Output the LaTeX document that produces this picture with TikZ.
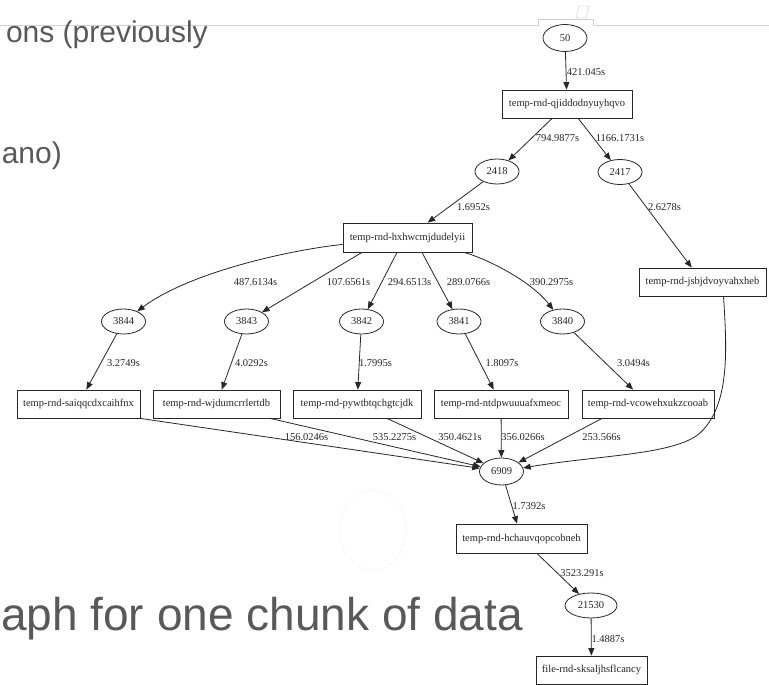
\documentclass[tikz,border=0pt]{standalone}
\usepackage{fontspec}
\setmainfont{Liberation Serif}
\newfontfamily\slidefont{Liberation Sans}
\usetikzlibrary{arrows.meta,shapes.geometric}
\definecolor{slidegray}{HTML}{595959}
\definecolor{linegray}{HTML}{D0D0D0}
\definecolor{graphink}{HTML}{262626}
\begin{document}
\begin{tikzpicture}[x=1pt,y=-1pt,
  every node/.style={inner sep=0pt, font=\fontsize{10.5}{12}\selectfont, text=graphink},
  ell/.style={draw=graphink, line width=0.8pt, ellipse, minimum width=44pt, minimum height=25pt},
  box/.style={draw=graphink, line width=0.8pt, rectangle, minimum height=28pt},
  edge/.style={draw=graphink, line width=0.8pt, -{Triangle[length=7.5pt,width=6pt]}},
  slide/.style={font=\slidefont\fontsize{30}{36}\selectfont, text=slidegray, anchor=base east},
  bigslide/.style={font=\slidefont\fontsize{46}{55}\selectfont, text=slidegray, anchor=base east}
]
\useasboundingbox (0,0) rectangle (769,685);
\fill[white] (0,0) rectangle (769,685);

% slide decorations
\draw[linegray, line width=0.9pt] (0,25) -- (538,25) -- (538,19) -- (593,19) -- (593,25) -- (769,25);
\draw[gray!25, line width=0.8pt] (576,18) -- (579,6) -- (589,6) -- (586,18) -- cycle;
\draw[gray!5, line width=1pt] (373,530) ellipse (33 and 40);

\node[slide] (t1) at (208,43) {ons (previously};
\node[slide] (t2) at (62,163) {ano)};
\node[bigslide] (t3) at (523,630) {aph for one chunk of data};

% graph nodes
\node[ell, minimum height=27pt] (n50) at (565,38) {50};
\node[box, minimum width=130pt] (q) at (567,104) {temp-rnd-qjiddodnyuyhqvo};
\node[ell] (n2418) at (497,171.5) {2418};
\node[ell] (n2417) at (620,172) {2417};
\node[box, minimum width=129pt, minimum height=29pt] (h) at (407.5,237.5) {temp-rnd-hxhwcmjdudelyii};
\node[box, minimum width=127pt] (j) at (702.5,282) {temp-rnd-jsbjdvoyvahxheb};

\node[ell] (n3844) at (123.5,321.5) {3844};
\node[ell] (n3843) at (246.5,321.5) {3843};
\node[ell] (n3842) at (361.5,321.5) {3842};
\node[ell] (n3841) at (459,321.5) {3841};
\node[ell] (n3840) at (562.5,321.5) {3840};

\node[box, minimum width=123pt] (r1) at (78.5,404) {temp-rnd-saiqqcdxcaihfnx};
\node[box, minimum width=127pt] (r2) at (216.5,404) {temp-rnd-wjdumcrrlertdb};
\node[box, minimum width=128pt] (r3) at (357,404) {temp-rnd-pywtbtqchgtcjdk};
\node[box, minimum width=134pt] (r4) at (501,404) {temp-rnd-ntdpwuuuafxmeoc};
\node[box, minimum width=132pt] (r5) at (648,404) {temp-rnd-vcowehxukzcooab};

\node[ell, minimum height=27pt] (n6909) at (501.5,471.5) {6909};
\node[box, minimum width=131pt, minimum height=29pt] (hc) at (521.5,538.5) {temp-rnd-hchauvqopcobneh};
\node[ell, minimum width=52pt] (n21530) at (591,605.5) {21530};
\node[box, minimum width=111pt] (f) at (591.5,670) {file-rnd-sksaljhsflcancy};

\coordinate (jbend) at (700,433);

% edges
\draw[edge] (n50) -- (q);
\draw[edge] (q) -- (n2418);
\draw[edge] (q) -- (n2417);
\draw[edge] (n2418) -- (h);
\draw[edge] (n2417) -- (j);
\draw[edge] (h) .. controls (290,250) and (190,272) .. (n3844);
\draw[edge] ([xshift=-45.5pt]h.south) -- (n3843);
\draw[edge] ([xshift=-10.5pt]h.south) -- (n3842);
\draw[edge] ([xshift=14.5pt]h.south) -- (n3841);
\draw[edge] (h) .. controls (485,258) and (530,280) .. (n3840);
\draw[edge] (n3844) -- (r1);
\draw[edge] (n3843) -- (r2);
\draw[edge] (n3842) -- (r3);
\draw[edge] (n3841) -- (r4);
\draw[edge] (n3840) -- (r5);
\draw[edge] (r1.south east) -- (n6909);
\draw[edge] ([xshift=53.5pt]r2.south) -- (n6909);
\draw[edge] ([xshift=30pt]r3.south) -- (n6909);
\draw[edge] (r4) -- (n6909);
\draw[edge] ([xshift=-46pt]r5.south) -- (n6909);
\draw[edge] ([xshift=21pt]j.south) .. controls (727,350) and (730,405) .. (jbend) .. controls (675,455) and (600,455) .. (n6909);
\draw[edge] (n6909) -- (hc);
\draw[edge] (hc) -- (n21530);
\draw[edge] (n21530) -- (f);

% edge labels
\node (l1) at (586,72) {421.045s};
\node (l2) at (557.5,138) {794.9877s};
\node (l3) at (620,138) {1166.1731s};
\node (l4) at (473.5,207) {1.6952s};
\node (l5) at (664.5,207) {2.6278s};
\node (l6) at (255.5,282) {487.6134s};
\node (l7) at (348.5,282) {107.6561s};
\node (l8) at (409.5,282) {294.6513s};
\node (l9) at (468.5,282) {289.0766s};
\node (l10) at (551.5,282) {390.2975s};
\node (l11) at (123.5,363) {3.2749s};
\node (l12) at (251.5,363) {4.0292s};
\node (l13) at (375.5,363) {1.7995s};
\node (l14) at (502,363) {1.8097s};
\node (l15) at (633.5,363) {3.0494s};
\node (l16) at (306.5,437) {156.0246s};
\node (l17) at (394.5,437) {535.2275s};
\node (l18) at (460,437) {350.4621s};
\node (l19) at (523,437) {356.0266s};
\node (l20) at (601.5,437) {253.566s};
\node (l22) at (529,506) {1.7392s};
\node (l23) at (582,573) {3523.291s};
\node (l24) at (608,639) {1.4887s};
\end{tikzpicture}
\end{document}
